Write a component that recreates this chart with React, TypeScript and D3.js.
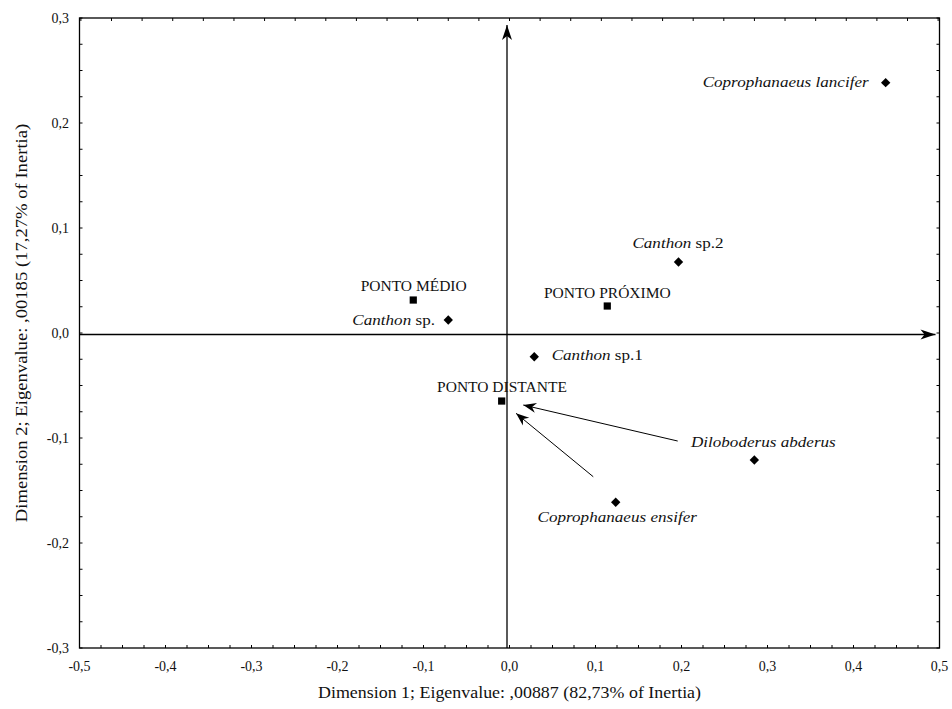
import React from "react";
import * as d3 from "d3";

const speciesGenus = ["Coprophanaeus lancifer", "Canthon", "Canthon", "Canthon", "Diloboderus abderus", "Coprophanaeus ensifer"];
const speciesSuffix = ["", " sp.2", " sp.", " sp.1", "", ""];
const speciesX = [0.4374, 0.1965, -0.0712, 0.0288, 0.2847, 0.1235];
const speciesY = [0.2384, 0.0676, 0.0124, -0.0226, -0.121, -0.1612];

const siteNames = ["PONTO MÉDIO", "PONTO PRÓXIMO", "PONTO DISTANTE"];
const siteX = [-0.1119, 0.1137, -0.0091];
const siteY = [0.0314, 0.0257, -0.0648];

// annotation arrows (from -> to), in data units
const arrowFromX = [0.1956, 0.0974];
const arrowFromY = [-0.1029, -0.1369];
const arrowToX = [0.016, 0.0076];
const arrowToY = [-0.0686, -0.0765];

const xTicks = [-0.5, -0.4, -0.3, -0.2, -0.1, 0, 0.1, 0.2, 0.3, 0.4, 0.5];
const yTicks = [-0.3, -0.2, -0.1, 0, 0.1, 0.2, 0.3];

const xTitle = "Dimension 1; Eigenvalue: ,00887 (82,73% of Inertia)";
const yTitle = "Dimension 2; Eigenvalue: ,00185 (17,27% of Inertia)";

// label placement (styling only)
const speciesLabelPlace = [
  { anchor: "end", dx: -17, dy: 4 },
  { anchor: "middle", dx: -0.5, dy: -14.4 },
  { anchor: "end", dx: -13.3, dy: 5 },
  { anchor: "start", dx: 17.4, dy: 3.3 },
  { anchor: "middle", dx: 9, dy: -12.7 },
  { anchor: "middle", dx: 1.5, dy: 19.4 },
];
const siteLabelPlace = [
  { anchor: "middle", dx: 0.4, dy: -9.3 },
  { anchor: "middle", dx: 0, dy: -8.3 },
  { anchor: "middle", dx: 0.3, dy: -9.3 },
];

const fmt = (v: number) => d3.format(".1f")(v).replace(".", ",").replace("−", "-");

export default function App() {
  const W = 952, H = 709;
  const x = d3.scaleLinear().domain([-0.5, 0.5]).range([79.5, 939.5]);
  const y = d3.scaleLinear().domain([-0.3, 0.3]).range([648, 18]);
  const font = "'Liberation Serif', 'Times New Roman', serif";

  const minorX = d3.range(-0.5, 0.5001, 0.025);
  const minorY = d3.range(-0.3, 0.3001, 0.025);
  const topStep = 0.0356;
  const topTicks = d3.range(-14, 15).map((i) => i * topStep).filter((v) => v > -0.5 && v < 0.5);

  const diamond = d3.symbol().type(d3.symbolDiamond2).size(56)();
  const square = d3.symbol().type(d3.symbolSquare).size(52)();

  return (
    <svg width={W} height={H} style={{ position: "absolute", left: 0, top: 0, background: "#fff" }} fontFamily={font}>
      <defs>
        <marker id="bigArrow" viewBox="-16 -6 18 12" refX="0" refY="0" markerWidth="18" markerHeight="12" markerUnits="userSpaceOnUse" orient="auto">
          <path d="M0,0 L-15,-5 L-11,0 L-15,5 Z" fill="#000" />
        </marker>
        <marker id="smallArrow" viewBox="-14 -6 16 12" refX="0" refY="0" markerWidth="16" markerHeight="12" markerUnits="userSpaceOnUse" orient="auto">
          <path d="M0,0 L-13,-5 L-9,0 L-13,5 Z" fill="#000" />
        </marker>
      </defs>
      <rect x={x(-0.5)} y={y(0.3)} width={x(0.5) - x(-0.5)} height={y(-0.3) - y(0.3)} fill="none" stroke="#000" strokeWidth={1.3} />
      {/* ticks */}
      {minorX.map((v, i) => (
        <line key={"bx" + i} x1={x(v)} x2={x(v)} y1={y(-0.3)} y2={y(-0.3) - 3} stroke="#000" strokeWidth={1} />
      ))}
      {topTicks.map((v, i) => (
        <line key={"tx" + i} x1={x(v)} x2={x(v)} y1={y(0.3)} y2={y(0.3) + 3} stroke="#000" strokeWidth={1} />
      ))}
      {minorY.map((v, i) => (
        <g key={"ly" + i}>
          <line x1={x(-0.5)} x2={x(-0.5) + 3} y1={y(v)} y2={y(v)} stroke="#000" strokeWidth={1} />
          <line x1={x(0.5)} x2={x(0.5) - 3} y1={y(v)} y2={y(v)} stroke="#000" strokeWidth={1} />
        </g>
      ))}
      {xTicks.map((v) => (
        <text key={"xl" + v} x={x(v)} y={671} textAnchor="middle" fontSize={14} fill="#111">{fmt(v)}</text>
      ))}
      {yTicks.map((v) => (
        <text key={"yl" + v} x={69} y={y(v) + 5} textAnchor="end" fontSize={14} fill="#111">{fmt(v)}</text>
      ))}
      {/* axis titles */}
      <text transform="translate(509.5,698) scale(1.086,1)" textAnchor="middle" fontSize={16.5} fill="#111">{yTitle === "" ? "" : xTitle}</text>
      <text transform={`translate(27,${323}) rotate(-90) scale(1.13,1)`} textAnchor="middle" fontSize={16.5} fill="#111">{yTitle}</text>
      {/* origin axes */}
      <line x1={x(-0.5)} x2={x(0.5) - 4} y1={y(0) + 1.5} y2={y(0) + 1.5} stroke="#000" strokeWidth={1.3} markerEnd="url(#bigArrow)" />
      <line x1={x(0) - 2.5} x2={x(0) - 2.5} y1={y(-0.3)} y2={y(0.3) + 7} stroke="#000" strokeWidth={1.3} markerEnd="url(#bigArrow)" />
      {/* annotation arrows */}
      {arrowFromX.map((v, i) => (
        <line key={"ar" + i} x1={x(v)} y1={y(arrowFromY[i])} x2={x(arrowToX[i])} y2={y(arrowToY[i])} stroke="#000" strokeWidth={1} markerEnd="url(#smallArrow)" />
      ))}
      {/* sites */}
      {siteNames.map((n, i) => (
        <g key={n}>
          <path d={square!} transform={`translate(${x(siteX[i])},${y(siteY[i])})`} fill="#000" />
          <text x={x(siteX[i]) + siteLabelPlace[i].dx} y={y(siteY[i]) + siteLabelPlace[i].dy} textAnchor={siteLabelPlace[i].anchor as any} fontSize={15.5} fill="#111">{n}</text>
        </g>
      ))}
      {/* species */}
      {speciesGenus.map((g, i) => {
        const p = speciesLabelPlace[i];
        const px = x(speciesX[i]), py = y(speciesY[i]);
        return (
          <g key={"sp" + i}>
            <path d={diamond!} transform={`translate(${px},${py})`} fill="#000" />
            <text transform={`translate(${px + p.dx},${py + p.dy}) scale(1.14,1)`} textAnchor={p.anchor as any} fontSize={15} fill="#111">
              <tspan fontStyle="italic">{g}</tspan>
              {speciesSuffix[i] && <tspan>{speciesSuffix[i]}</tspan>}
            </text>
          </g>
        );
      })}
    </svg>
  );
}
